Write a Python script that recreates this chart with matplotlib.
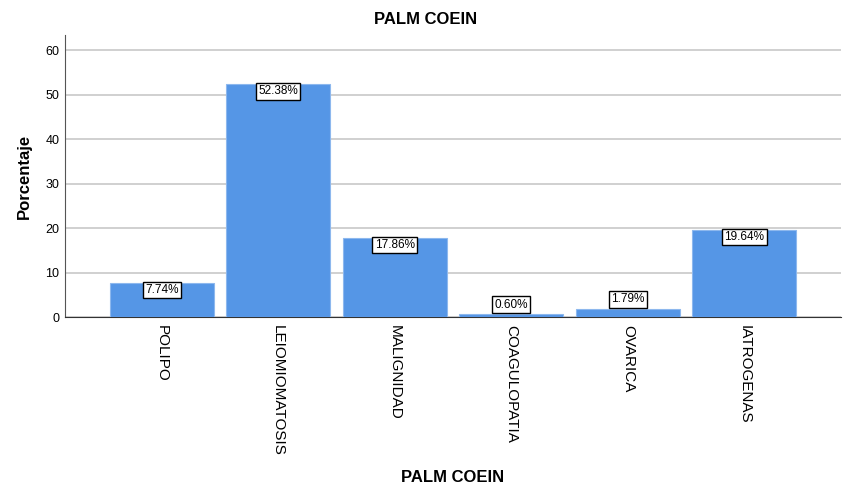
import matplotlib
matplotlib.use("Agg")
import matplotlib.pyplot as plt

categories = ["POLIPO", "LEIOMIOMATOSIS", "MALIGNIDAD", "COAGULOPATIA", "OVARICA", "IATROGENAS"]
values = [7.74, 52.38, 17.86, 0.60, 1.79, 19.64]
labels = ["7.74%", "52.38%", "17.86%", "0.60%", "1.79%", "19.64%"]
yticks = [0, 10, 20, 30, 40, 50, 60]

plt.rcParams['font.family'] = ['Liberation Sans', 'DejaVu Sans']

fig = plt.figure(figsize=(8.51, 5.01), dpi=100)
ax = fig.add_axes([65/851, 1-317/501, (841-65)/851, (317-35)/501])

x = list(range(len(categories)))
ax.bar(x, values, width=0.89, color="#5596E6", edgecolor="#8DB8EE", linewidth=0.8, zorder=3)

ax.set_xlim(-0.83, 5.83)
ax.set_ylim(0, 63.4)
ax.set_yticks(yticks)
ax.set_yticklabels([str(t) for t in yticks], fontsize=9)
ax.yaxis.grid(True, color="#C8C8C8", linewidth=1.2, zorder=0)
ax.set_axisbelow(True)

ax.set_xticks(x)
ax.set_xticklabels(categories, rotation=270, fontsize=11, va="top", ha="center")
ax.tick_params(axis="x", length=0, pad=6)
ax.tick_params(axis="y", length=0, pad=4)

for s in ["top", "right"]:
    ax.spines[s].set_visible(False)
ax.spines["left"].set_color("#555555")
ax.spines["bottom"].set_color("#333333")

bbox = dict(boxstyle="square,pad=0.2", facecolor="white", edgecolor="black", linewidth=1)
for xi, v, lab in zip(x, values, labels):
    if v > 5:
        ax.text(xi, v - 0.3, lab, ha="center", va="top", fontsize=8.5, bbox=bbox, zorder=5)
    else:
        ax.text(xi, v + 0.8, lab, ha="center", va="bottom", fontsize=8.5, bbox=bbox, zorder=5)

ax.set_ylabel("Porcentaje", fontsize=12, fontweight="bold", labelpad=10)
fig.text((65+841)/2/851, 1-478/501, "PALM COEIN", ha="center", va="center", fontsize=12, fontweight="bold")
fig.text(0.5, 1-20/501, "PALM COEIN", ha="center", va="center", fontsize=12, fontweight="bold")

fig.savefig("out.png", dpi=100, facecolor="white")
